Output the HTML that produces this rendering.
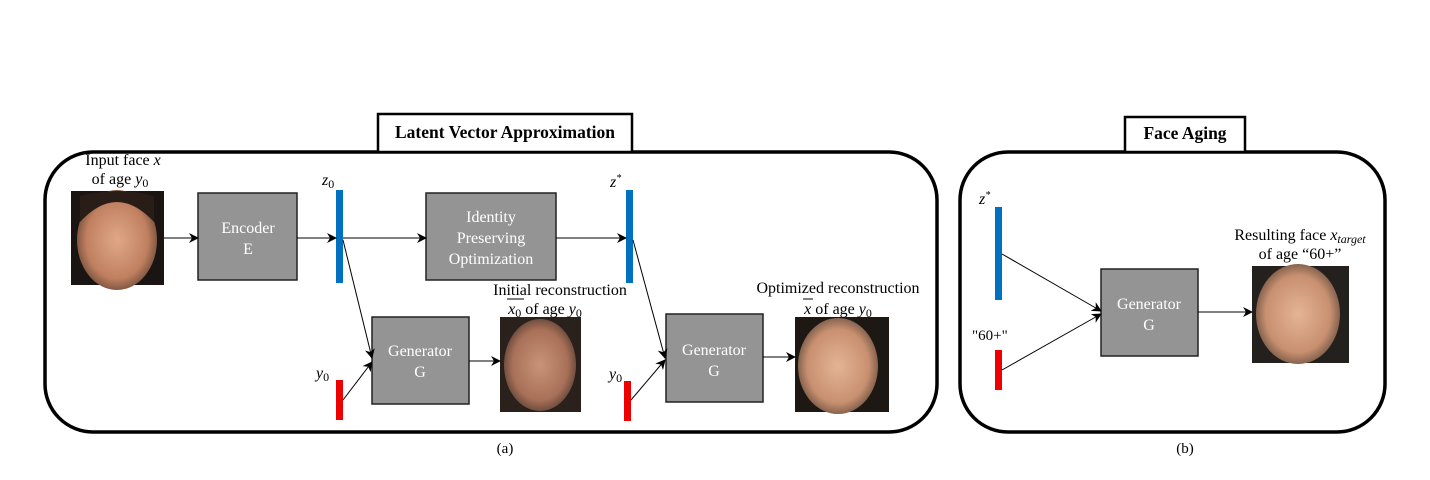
<!DOCTYPE html>
<html><head><meta charset="utf-8"><style>
html,body{margin:0;padding:0;background:#fff;width:1430px;height:480px;overflow:hidden}
text{font-family:"Liberation Serif",serif;}
</style></head><body>
<svg width="1430" height="480" viewBox="0 0 1430 480" xmlns="http://www.w3.org/2000/svg">
<defs>
<marker id="a" markerWidth="10" markerHeight="10" refX="9" refY="5" orient="auto" markerUnits="userSpaceOnUse">
<path d="M0,0 L10,5 L0,10 L3,5 Z" fill="#000"/></marker>
<radialGradient id="skin" cx="50%" cy="50%" r="55%"><stop offset="0" stop-color="#e0a888"/><stop offset="0.7" stop-color="#c08060"/><stop offset="1" stop-color="#6a4838"/></radialGradient>
<radialGradient id="skin2" cx="50%" cy="50%" r="55%"><stop offset="0" stop-color="#c89478"/><stop offset="0.7" stop-color="#a87058"/><stop offset="1" stop-color="#5a4034"/></radialGradient>
<radialGradient id="skin3" cx="50%" cy="50%" r="55%"><stop offset="0" stop-color="#e4b496"/><stop offset="0.7" stop-color="#c89070"/><stop offset="1" stop-color="#6a5040"/></radialGradient>
</defs>
<rect x="45" y="152" width="892" height="280" rx="48" fill="none" stroke="#000" stroke-width="3.5"/>
<rect x="378" y="114" width="254" height="38" fill="#fff" stroke="#000" stroke-width="2.5"/>
<text x="505" y="138" font-size="17.5" font-weight="bold" text-anchor="middle">Latent Vector Approximation</text>
<rect x="960" y="152" width="425" height="280" rx="48" fill="none" stroke="#000" stroke-width="3.5"/>
<rect x="1125" y="117" width="120" height="35" fill="#fff" stroke="#000" stroke-width="2.5"/>
<text x="1185" y="139" font-size="17.5" font-weight="bold" text-anchor="middle">Face Aging</text>

<rect x="71" y="191" width="93" height="94" fill="#1a1412"/>
<ellipse cx="117" cy="240" rx="40" ry="50" fill="url(#skin)"/>
<path d="M80,222 Q117,182 154,222 L154,196 Q117,186 80,196 Z" fill="#2a1c16"/>
<text x="123" y="165" font-size="16" text-anchor="middle">Input face <tspan font-style="italic">x</tspan></text>
<text x="120" y="184" font-size="16" text-anchor="middle">of age <tspan font-style="italic">y</tspan><tspan font-size="12" dy="3">0</tspan></text>

<rect x="198" y="193" width="99" height="87" fill="#949494" stroke="#222" stroke-width="1.5"/>
<text x="248" y="233" font-size="16" fill="#fff" text-anchor="middle">Encoder</text>
<text x="248" y="254" font-size="16" fill="#fff" text-anchor="middle">E</text>

<text x="322" y="185" font-size="16" font-style="italic">z<tspan font-size="12" font-style="normal" dy="3">0</tspan></text>
<rect x="336" y="190" width="7" height="93" fill="#0070c0"/>
<rect x="426" y="193" width="130" height="87" fill="#949494" stroke="#222" stroke-width="1.5"/>
<text x="491" y="222" font-size="16" fill="#fff" text-anchor="middle">Identity</text>
<text x="491" y="243" font-size="16" fill="#fff" text-anchor="middle">Preserving</text>
<text x="491" y="264" font-size="16" fill="#fff" text-anchor="middle">Optimization</text>
<text x="610" y="187" font-size="16" font-style="italic">z<tspan font-size="10" dy="-6">*</tspan></text>
<rect x="626" y="190" width="7" height="93" fill="#0070c0"/>

<rect x="372" y="317" width="97" height="87" fill="#949494" stroke="#222" stroke-width="1.5"/>
<text x="420" y="356" font-size="16" fill="#fff" text-anchor="middle">Generator</text>
<text x="420" y="377" font-size="16" fill="#fff" text-anchor="middle">G</text>
<text x="316" y="378" font-size="16" font-style="italic">y<tspan font-size="12" font-style="normal" dy="3">0</tspan></text>
<rect x="336" y="380" width="7" height="40" fill="#ee0000"/>

<rect x="500" y="317" width="81" height="95" fill="#2a201c"/>
<ellipse cx="540" cy="365" rx="36" ry="46" fill="url(#skin2)"/>
<text x="560" y="295" font-size="16" text-anchor="middle">Initial reconstruction</text>
<text x="545" y="314" font-size="16" text-anchor="middle"><tspan font-style="italic">x</tspan><tspan font-size="12" dy="3">0</tspan><tspan dy="-3"> of age </tspan><tspan font-style="italic">y</tspan><tspan font-size="12" dy="3">0</tspan></text>
<line x1="507" y1="299" x2="524" y2="299" stroke="#000" stroke-width="1"/>

<text x="609" y="379" font-size="16" font-style="italic">y<tspan font-size="12" font-style="normal" dy="3">0</tspan></text>
<rect x="624" y="381" width="7" height="40" fill="#ee0000"/>
<rect x="666" y="314" width="97" height="88" fill="#949494" stroke="#222" stroke-width="1.5"/>
<text x="714" y="355" font-size="16" fill="#fff" text-anchor="middle">Generator</text>
<text x="714" y="376" font-size="16" fill="#fff" text-anchor="middle">G</text>

<rect x="795" y="317" width="94" height="95" fill="#1e1814"/>
<ellipse cx="838" cy="366" rx="40" ry="48" fill="url(#skin3)"/>
<text x="838" y="293" font-size="16" text-anchor="middle">Optimized reconstruction</text>
<text x="838" y="314" font-size="16" text-anchor="middle"><tspan font-style="italic">x</tspan> of age <tspan font-style="italic">y</tspan><tspan font-size="12" dy="3">0</tspan></text>
<line x1="803" y1="299" x2="813" y2="299" stroke="#000" stroke-width="1"/>

<g stroke="#000" stroke-width="1" fill="none" marker-end="url(#a)">
<line x1="164" y1="238" x2="198" y2="238"/>
<line x1="297" y1="238" x2="336" y2="238"/>
<line x1="343" y1="238" x2="426" y2="238"/>
<line x1="556" y1="238" x2="626" y2="238"/>
<line x1="343" y1="240" x2="372" y2="358"/>
<line x1="343" y1="400" x2="372" y2="362"/>
<line x1="469" y1="361" x2="500" y2="361"/>
<line x1="633" y1="240" x2="665" y2="358"/>
<line x1="631" y1="400" x2="665" y2="360"/>
<line x1="763" y1="357" x2="795" y2="357"/>
</g>

<text x="979" y="204" font-size="16" font-style="italic">z<tspan font-size="10" dy="-6">*</tspan></text>
<rect x="995" y="207" width="7" height="93" fill="#0070c0"/>
<text x="972" y="340" font-size="15">"60+"</text>
<rect x="995" y="350" width="7" height="40" fill="#ee0000"/>
<rect x="1101" y="269" width="97" height="87" fill="#949494" stroke="#222" stroke-width="1.5"/>
<text x="1149" y="309" font-size="16" fill="#fff" text-anchor="middle">Generator</text>
<text x="1149" y="330" font-size="16" fill="#fff" text-anchor="middle">G</text>
<rect x="1252" y="266" width="97" height="97" fill="#24201e"/>
<ellipse cx="1298" cy="314" rx="42" ry="50" fill="url(#skin3)"/>
<text x="1300" y="240" font-size="16" text-anchor="middle">Resulting face <tspan font-style="italic">x</tspan><tspan font-size="12" font-style="italic" dy="3">target</tspan></text>
<text x="1300" y="259" font-size="16" text-anchor="middle">of age “60+”</text>
<g stroke="#000" stroke-width="1" fill="none" marker-end="url(#a)">
<line x1="1002" y1="254" x2="1101" y2="311"/>
<line x1="1002" y1="370" x2="1101" y2="314"/>
<line x1="1198" y1="312" x2="1252" y2="312"/>
</g>

<text x="505" y="453" font-size="15" text-anchor="middle">(a)</text>
<text x="1185" y="453" font-size="15" text-anchor="middle">(b)</text>
</svg>
</body></html>
